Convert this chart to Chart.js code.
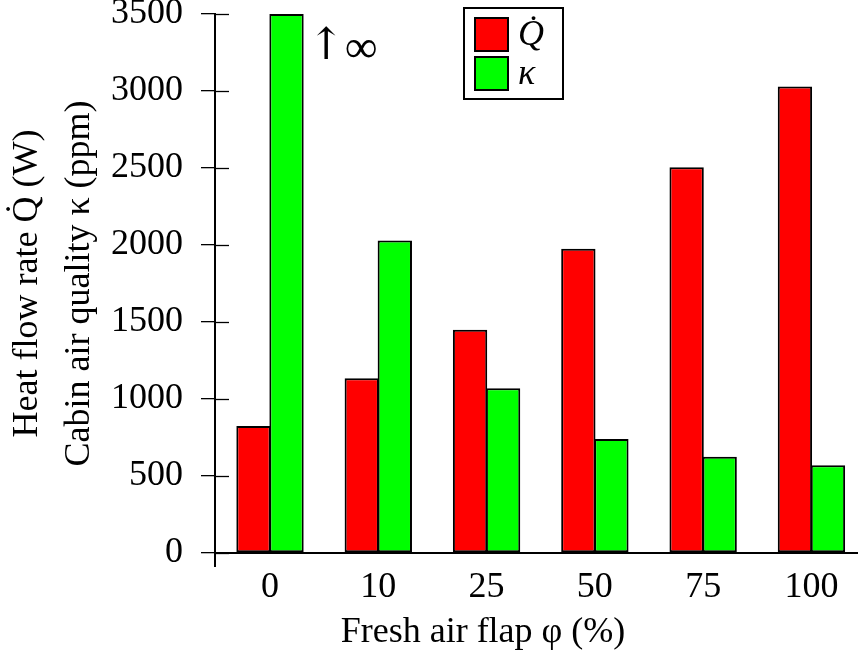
<!DOCTYPE html>
<html>
<head>
<meta charset="utf-8">
<script src="https://cdn.jsdelivr.net/npm/chart.js@4/dist/chart.umd.min.js"></script>
<style>
  html, body { margin: 0; padding: 0; background: #ffffff; }
  #wrap { width: 858px; height: 661px; }
</style>
</head>
<body>
<div id="wrap"><canvas id="c" width="858" height="661"></canvas></div>
<script>
// ---- data ----
const categories = ['0', '10', '25', '50', '75', '100'];            // fresh air flap φ (%)
const heatFlow = [825, 1135, 1450, 1975, 2505, 3030];               // Q̇ (W)
const airQuality = [3500, 2030, 1070, 740, 625, 570];               // κ (ppm); first bar → ∞ (clipped at axis max)
const yTicks = [0, 500, 1000, 1500, 2000, 2500, 3000, 3500];
const seriesLabels = ['Q̇', 'κ'];
const seriesColors = ['#ff0000', '#00ff00'];

const SERIF = '"Liberation Serif", "DejaVu Serif", serif';

const decorPlugin = {
  id: 'decor',
  afterDraw(chart) {
    const ctx = chart.ctx;
    const y = chart.scales.y;
    const area = chart.chartArea;
    ctx.save();
    ctx.strokeStyle = '#000';
    ctx.lineWidth = 1.3;
    // inner halves of y ticks
    yTicks.forEach(v => {
      const py = Math.round(y.getPixelForValue(v)) + 0.5;
      ctx.beginPath();
      ctx.moveTo(area.left, py);
      ctx.lineTo(area.left + 14, py);
      ctx.stroke();
    });
    // y axis continues below the origin
    ctx.lineWidth = 2;
    ctx.beginPath();
    ctx.moveTo(area.left, area.bottom);
    ctx.lineTo(area.left, area.bottom + 14);
    ctx.stroke();

    // "↑ ∞" note beside the clipped bar
    const bar = chart.getDatasetMeta(1).data[0];
    const nx = bar.x + bar.width / 2 + 4;
    const ny = y.getPixelForValue(3500) + 34;
    ctx.fillStyle = '#000';
    ctx.textAlign = 'left';
    ctx.textBaseline = 'middle';
    ctx.font = '44px "DejaVu Serif", serif';
    ctx.fillText('↑', nx, ny);
    ctx.font = '46px ' + SERIF;
    ctx.fillText('∞', nx + 37, ny + 2);

    // x-axis title
    ctx.textAlign = 'center';
    ctx.textBaseline = 'middle';
    ctx.font = '36px ' + SERIF;
    ctx.fillText('Fresh air flap φ (%)', 483, 633);

    // legend box
    const lx = 464, ly = 8, lw = 99, lh = 91;
    ctx.fillStyle = '#fff';
    ctx.fillRect(lx, ly, lw, lh);
    ctx.lineWidth = 2;
    ctx.strokeStyle = '#000';
    ctx.strokeRect(lx, ly, lw, lh);
    chart.data.datasets.forEach((ds, i) => {
      const sy = 18 + i * 39;
      ctx.fillStyle = ds.backgroundColor;
      ctx.fillRect(475, sy, 33, 33);
      ctx.lineWidth = 2;
      ctx.strokeStyle = '#000';
      ctx.strokeRect(475, sy, 33, 33);
      ctx.fillStyle = '#000';
      ctx.font = 'italic 36px ' + SERIF;
      ctx.textAlign = 'left';
      ctx.textBaseline = 'middle';
      ctx.fillText(ds.label, 518, sy + 18);
    });
    ctx.restore();
  }
};

new Chart(document.getElementById('c'), {
  type: 'bar',
  data: {
    datasets: [
      {
        label: seriesLabels[0],
        data: heatFlow.map((v, i) => ({ x: i, y: v })),
        backgroundColor: seriesColors[0],
        borderColor: '#000',
        borderWidth: 2,
        borderSkipped: false
      },
      {
        label: seriesLabels[1],
        data: airQuality.map((v, i) => ({ x: i, y: v })),
        backgroundColor: seriesColors[1],
        borderColor: '#000',
        borderWidth: 2,
        borderSkipped: false
      }
    ]
  },
  options: {
    responsive: false,
    animation: false,
    devicePixelRatio: 1,
    layout: { padding: { top: 14, right: 0, left: 0, bottom: 0 } },
    datasets: { bar: { categoryPercentage: 0.61, barPercentage: 1.04 } },
    plugins: {
      legend: { display: false },
      tooltip: { enabled: false },
      title: { display: false }
    },
    scales: {
      x: {
        type: 'linear',
        offset: false,
        min: -0.508,
        max: 5.43,
        afterBuildTicks: (axis) => { axis.ticks = categories.map((c, i) => ({ value: i })); },
        afterFit: (scale) => { scale.height = 108; scale.paddingLeft = 0; scale.paddingRight = 0; },
        grid: { display: false, drawTicks: false, offset: false },
        border: { display: true, color: '#000', width: 2 },
        ticks: {
          color: '#000',
          font: { family: SERIF, size: 36 },
          padding: 13,
          maxRotation: 0,
          autoSkip: false,
          callback: (v) => categories[Math.round(v)] ?? ''
        }
      },
      y: {
        min: 0,
        max: 3500,
        afterBuildTicks: (axis) => { axis.ticks = yTicks.map(v => ({ value: v })); },
        afterFit: (scale) => { scale.width = 215; scale.paddingTop = 0; scale.paddingBottom = 0; },
        grid: { display: true, drawOnChartArea: false, drawTicks: true, tickLength: 14, color: '#000', lineWidth: 1.3 },
        border: { display: true, color: '#000', width: 2 },
        ticks: {
          color: '#000',
          font: { family: SERIF, size: 36 },
          padding: 18,
          autoSkip: false,
          callback: (v) => String(v)
        },
        title: {
          display: true,
          text: ['Heat flow rate Q̇ (W)', 'Cabin air quality κ (ppm)'],
          color: '#000',
          font: { family: SERIF, size: 36, lineHeight: 1.44 },
          padding: { top: 2, bottom: 0 }
        }
      }
    }
  },
  plugins: [decorPlugin]
});
</script>
</body>
</html>
